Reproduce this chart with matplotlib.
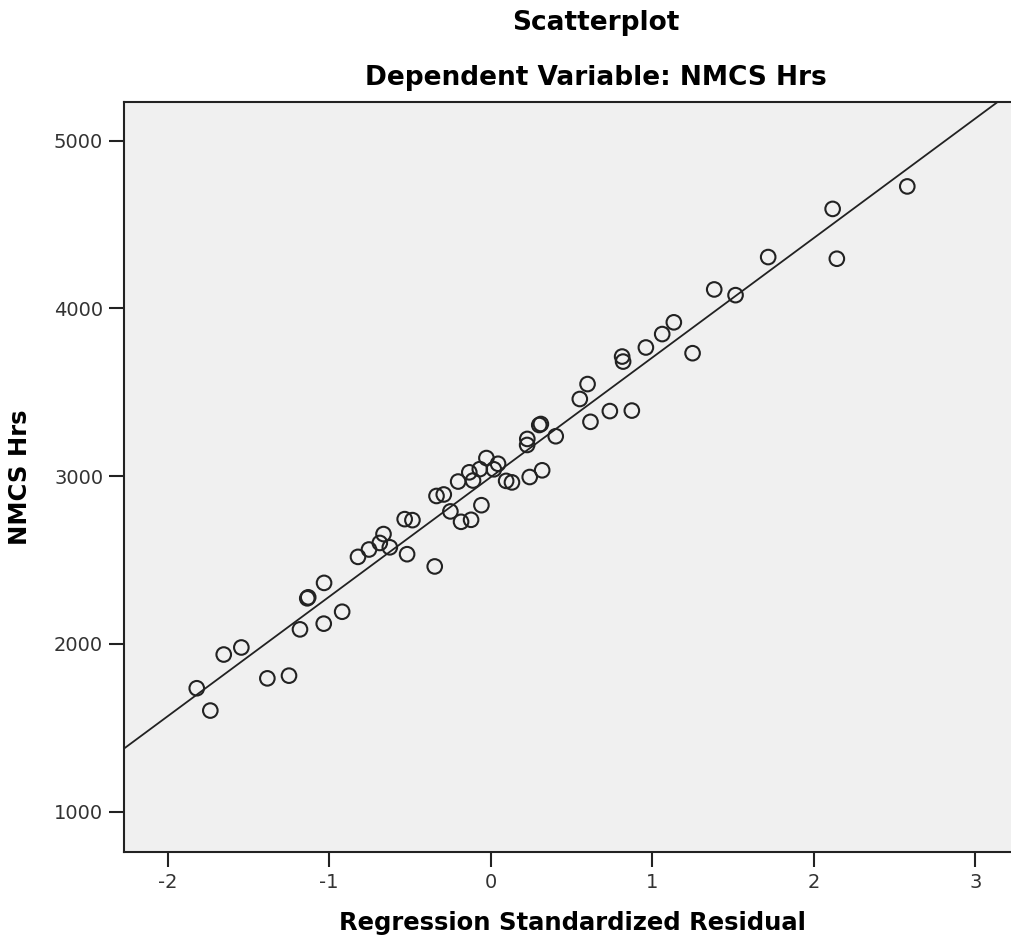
import matplotlib
matplotlib.use("Agg")
import matplotlib.pyplot as plt
import numpy as np

plt.rcParams['axes.unicode_minus'] = False

# Значения
std_residual = [
    -1.820, -1.736, -1.653, -1.544, -1.383, -1.249, -1.181, -1.136, -1.130, -1.034,
    -1.032, -0.920, -0.822, -0.754, -0.687, -0.664, -0.625, -0.533, -0.518, -0.485,
    -0.347, -0.336, -0.291, -0.250, -0.202, -0.184, -0.122, -0.133, -0.110, -0.068,
    -0.058, -0.027, 0.019, 0.045, 0.095, 0.131, 0.226, 0.225, 0.241, 0.300,
    0.310, 0.318, 0.402, 0.551, 0.599, 0.617, 0.737, 0.813, 0.819, 0.873,
    0.960, 1.061, 1.133, 1.249, 1.383, 1.515, 1.717, 2.116, 2.142, 2.578,
]
nmcs_hrs = [
    1736, 1603, 1937, 1979, 1795, 1811, 2087, 2272, 2278, 2121,
    2364, 2192, 2519, 2563, 2602, 2655, 2576, 2744, 2535, 2738,
    2462, 2882, 2891, 2790, 2968, 2728, 2740, 3023, 2974, 3042,
    2827, 3108, 3041, 3074, 2972, 2963, 3222, 3186, 2995, 3305,
    3311, 3035, 3238, 3460, 3549, 3324, 3388, 3713, 3683, 3391,
    3767, 3847, 3917, 3733, 4113, 4079, 4306, 4593, 4296, 4727,
]
x_ticks = [-2, -1, 0, 1, 2, 3]
y_ticks = [1000, 2000, 3000, 4000, 5000]

fig = plt.figure(figsize=(10.11, 9.43), dpi=100)
ax = fig.add_axes([0.1227, 0.0965, 0.8773, 0.7953])
ax.set_facecolor('#f0f0f0')

x = np.array(std_residual)
y = np.array(nmcs_hrs)

# Линия регрессии
slope, intercept = np.polyfit(x, y, 1)
xl = np.array([-2.3, 3.3])
ax.plot(xl, intercept + slope * xl, color='#222222', lw=1.3, zorder=2)

ax.scatter(x, y, s=110, facecolors='none', edgecolors='#222222', linewidths=1.5, zorder=3)

ax.set_xlim(-2.27, 3.22)
ax.set_ylim(760, 5230)
ax.set_xticks(x_ticks)
ax.set_yticks(y_ticks)
ax.tick_params(axis='both', direction='out', length=11, width=1.5, color='#222222',
               labelsize=14, labelcolor='#333333', pad=4)
ax.spines['right'].set_visible(False)
for side in ['left', 'bottom', 'top']:
    ax.spines[side].set_linewidth(1.5)
    ax.spines[side].set_color('#222222')

ax.set_xlabel('Regression Standardized Residual', fontsize=17.5, fontweight='bold')
ax.xaxis.set_label_coords(0.506, -0.079)
ax.set_ylabel('NMCS Hrs', fontsize=17.5, fontweight='bold', labelpad=16)
fig.text(0.589, 0.976, 'Scatterplot', ha='center', va='center', fontsize=19, fontweight='bold')
fig.text(0.589, 0.917, 'Dependent Variable: NMCS Hrs', ha='center', va='center',
         fontsize=19, fontweight='bold')

fig.savefig('out.png', dpi=100)
